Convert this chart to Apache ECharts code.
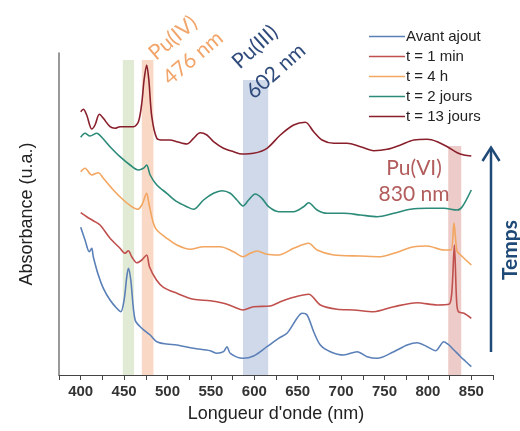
<!DOCTYPE html>
<html>
<head>
<meta charset="utf-8">
<script src="https://cdn.jsdelivr.net/npm/echarts@6/dist/echarts.min.js"></script>
<style>
  html, body { margin: 0; padding: 0; background: #fff; }
  #chart { width: 520px; height: 431px; }
</style>
</head>
<body>
<div id="chart"></div>
<script>
// ---- Data (wavelength nm, absorbance arbitrary units) ----
const seriesNames = ['Avant ajout', 't = 1 min', 't = 4 h', 't = 2 jours', 't = 13 jours'];
const seriesColors = ['#5b80b8', '#c0504d', '#f2a660', '#2b8a78', '#8a1f2c'];

const avantAjout = [
  [400,147.7],[405,135],[409.9,123.3],[412.7,126.7],[414.5,118.3],[420.3,100],[426.1,86.7],
  [433.8,75],[441.5,66.7],[446.2,63.3],[450,75],[453.1,98.3],[455,106.7],[457.7,95],
  [462.7,55],[470.4,46.7],[480,40],[487.7,33.3],[499.2,31],[510.8,30],[530,26.7],
  [549.2,24.3],[556.9,21.7],[564.5,23.3],[568.5,28.3],[572.3,21.7],[587,16.7],[599.1,19],
  [614.6,28.3],[628,36.7],[637.7,41.7],[649.2,56.7],[655,61.7],[660.8,60],[668.4,43.3],
  [676.1,30],[687.6,23.3],[703,20],[718.5,23.3],[730,18.3],[741.5,16.7],[760.7,23.3],
  [776.1,30],[787.7,32.3],[799.2,28.3],[808.8,24.3],[818.4,33.3],[824.2,30],[830,25],
  [837.7,18.3],[843,14],[850,8.3]
];
const t1min = [
  [400,162.3],[406.9,158.3],[414.5,154.3],[422.3,150],[433.8,136.7],[445.3,126.7],[451.1,121.7],
  [454.9,124.3],[458.8,118.3],[464.6,112.3],[470.4,115],[476,120],[479.2,108.3],[487.3,95],
  [495.3,87.7],[510.8,81.7],[530,75.7],[549.2,74.3],[564.5,71.7],[576,68.3],[587,65],
  [599.1,68.3],[618.4,69],[630,73.3],[645.3,77.7],[662.6,80.7],[676.1,70],[695.4,65.7],
  [714.5,65],[737.6,63.3],[760.7,68.3],[787.7,72.3],[810.8,70],[824.2,70.7],[827.5,82],
  [830.5,130],[833,75],[835,63.3],[841.5,61.7],[850,56.7]
];
const t4h = [
  [400,203.3],[405,206.7],[412.7,200],[420.3,202.3],[426.1,196.7],[437.6,185],[449.2,175],
  [458.8,168.3],[465.3,165.7],[470.4,170],[476,181.7],[478.5,171.7],[483.8,151.7],[487.7,145],
  [499.2,136.7],[510.8,130],[526.1,125.7],[541.5,128.3],[560.7,128.3],[576.1,123.3],[587,118.3],
  [595.3,121.7],[603.1,124],[614.6,120.7],[628,120],[645.3,126.7],[662.6,131.7],[672.3,125],
  [691.5,120],[722.3,119],[745.3,118.3],[760.7,121.7],[783.8,128.3],[799.2,129],[818.4,125],
  [826.5,125],[830,152],[833.5,124],[837.7,120],[850,110]
];
const t2jours = [
  [400,237.7],[405,241.7],[410.7,239],[418.5,241.7],[424.2,237.7],[433.8,228.3],[445.3,218.3],
  [456.9,210],[466.5,205],[472.2,206.7],[476,210],[480,200],[487.7,190],[499.2,181.7],
  [510.8,173.3],[522.3,168.3],[530,165.7],[541.5,175],[553,181.7],[562.7,184.3],[572.3,181.7],
  [580,175],[587,169],[593.4,175],[601.1,181],[608.8,176.7],[616.5,168.3],[628,163.3],
  [645.3,163.3],[656.8,168.3],[662.6,172.3],[672.3,165],[683.8,161.7],[703,161.7],[722.3,160],
  [741.5,158.3],[760.7,161.7],[780,165.7],[799.2,166.7],[818.4,166.7],[833.8,165],[839.6,168.3],
  [850,185]
];
const t13jours = [
  [400,263.3],[403,265.7],[406.9,260],[412.7,246],[416.5,250],[421.5,260.7],[426.1,256.7],
  [433.8,248.3],[439.6,246.7],[445.3,248.3],[460.7,248.3],[466.5,253.3],[470.4,272],[473,295],
  [476,310],[478.5,295],[481.9,258.3],[487.7,236.7],[495.3,235],[503,235],[510.8,233.3],
  [522.3,231],[530,236.7],[537.6,242.3],[545.4,240],[553,233.3],[564.5,226.7],[576,223.3],
  [585.8,221],[599.1,221.7],[614.6,226.7],[630,240],[645.3,250],[658.8,252.7],[668.4,243.3],
  [678,235],[691.5,231.7],[706.9,231.7],[722.3,228.3],[737.6,224.3],[753.1,225.7],[768.4,230],
  [783.8,235],[799.2,235.7],[810.8,233.3],[822.3,228.3],[833.8,222.3],[841.5,220],[850,219]
];
const allSeries = [avantAjout, t1min, t4h, t2jours, t13jours];

// Highlight bands (nm) and their tops
const bandStart = [448.5, 470.4, 587, 823.4];
const bandEnd   = [461.5, 483.8, 616, 838.4];
const bandTop   = [315, 315, 295, 229];
const bandColors = ['#e1ead5', '#f9d9c6', '#d0d9ea', '#edcbc8'];

// Axis ticks
const xMin = 375, xMax = 875, xInterval = 25;

const chart = echarts.init(document.getElementById('chart'), null, { renderer: 'canvas' });

const series = [{
  name: 'bands', type: 'line', data: [], silent: true, z: 1,
  markArea: {
    silent: true,
    data: bandStart.map((s, i) => [
      { xAxis: s, yAxis: 0, itemStyle: { color: bandColors[i] } },
      { xAxis: bandEnd[i], yAxis: bandTop[i] }
    ])
  }
}];
allSeries.forEach((d, i) => {
  series.push({
    name: seriesNames[i], type: 'line', data: d, symbol: 'none', smooth: 0.3,
    z: 3, lineStyle: { width: 1.6, color: seriesColors[i] }, itemStyle: { color: seriesColors[i] }
  });
});

const option = {
  animation: false,
  backgroundColor: '#fff',
  grid: { left: 59, right: 27, top: 53, bottom: 56 },
  legend: {
    data: seriesNames.map((n, i) => ({ name: n, icon: 'rect', itemStyle: { color: seriesColors[i] } })),
    orient: 'vertical', left: 364, top: 24,
    itemWidth: 36, itemHeight: 1.6, itemGap: 5,
    textStyle: { fontFamily: 'Liberation Sans', fontSize: 15, color: '#222', lineHeight: 14, padding: [0,0,0,-4] }
  },
  xAxis: {
    type: 'value', min: xMin, max: xMax, interval: xInterval,
    name: "Longueur d'onde (nm)", nameLocation: 'middle', nameGap: 30,
    nameTextStyle: { fontFamily: 'Liberation Sans', fontSize: 18, color: '#222' },
    axisLine: { lineStyle: { color: '#444', width: 1 } },
    axisTick: { show: true, length: 5, lineStyle: { color: '#444' } },
    splitLine: { show: false },
    axisLabel: {
      margin: 9, fontFamily: 'Liberation Sans', fontSize: 15, fontWeight: 'bold', color: '#333',
      formatter: v => (v % 50 === 0 && v >= 400 && v <= 850) ? String(v) : ''
    }
  },
  yAxis: {
    type: 'value', min: 0, max: 322,
    name: 'Absorbance (u.a.)', nameLocation: 'middle', nameGap: 23,
    nameTextStyle: { fontFamily: 'Liberation Sans', fontSize: 18, color: '#222' },
    axisLine: { show: true, lineStyle: { color: '#777', width: 1.5 } },
    axisTick: { show: false }, axisLabel: { show: false }, splitLine: { show: false }
  },
  series: series,
  graphic: [
    { type: 'text', x: 173, y: 38, rotation: 0.70, z: 10,
      style: { text: 'Pu(IV)', fontFamily: 'Lato', fontSize: 21, fill: '#f2a56a', textAlign: 'center', textVerticalAlign: 'middle' } },
    { type: 'text', x: 193, y: 58, rotation: 0.70, z: 10,
      style: { text: '476 nm', fontFamily: 'Lato', fontSize: 21, fill: '#f2a56a', textAlign: 'center', textVerticalAlign: 'middle' } },
    { type: 'text', x: 255, y: 47, rotation: 0.73, z: 10,
      style: { text: 'Pu(III)', fontFamily: 'Lato', fontSize: 21, fill: '#2f4b7c', textAlign: 'center', textVerticalAlign: 'middle' } },
    { type: 'text', x: 276, y: 71, rotation: 0.73, z: 10,
      style: { text: '602 nm', fontFamily: 'Lato', fontSize: 21, fill: '#2f4b7c', textAlign: 'center', textVerticalAlign: 'middle' } },
    { type: 'text', x: 414, y: 168, z: 10,
      style: { text: 'Pu(VI)', fontFamily: 'Lato', fontSize: 21, fill: '#b25c5c', textAlign: 'center', textVerticalAlign: 'middle' } },
    { type: 'text', x: 414, y: 194, z: 10,
      style: { text: '830 nm', fontFamily: 'Lato', fontSize: 21, fill: '#b25c5c', textAlign: 'center', textVerticalAlign: 'middle' } },
    { type: 'text', x: 510, y: 250, rotation: Math.PI / 2, z: 10,
      style: { text: 'Temps', fontFamily: 'Lato', fontSize: 21, fontWeight: 'bold', fill: '#1f4a78', textAlign: 'center', textVerticalAlign: 'middle' } },
    { type: 'line', z: 10, shape: { x1: 491, y1: 352, x2: 491, y2: 148 },
      style: { stroke: '#1f4a78', lineWidth: 2.5 } },
    { type: 'polyline', z: 10, shape: { points: [[482.5, 161], [491, 147.5], [499.5, 161]] },
      style: { stroke: '#1f4a78', lineWidth: 2.5, fill: null } }
  ]
};
chart.setOption(option);
</script>
</body>
</html>
